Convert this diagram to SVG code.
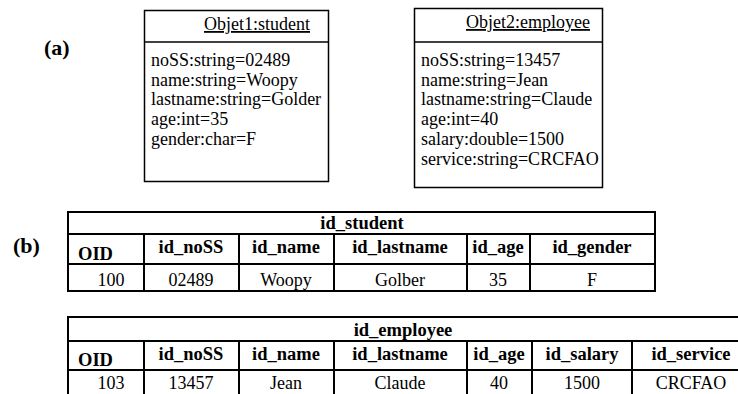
<svg xmlns="http://www.w3.org/2000/svg" width="738" height="394" viewBox="0 0 738 394">
<style>
text{font-family:"Liberation Serif","Times New Roman",serif;fill:#000}
.obj{fill:#fff;stroke:#000;stroke-width:1.5}
.sep{stroke:#000;stroke-width:1.5}
.at{font-size:18px}
.tt{font-size:18px;text-anchor:middle;text-decoration:underline}
.tb{fill:none;stroke:#000;stroke-width:2}
.tl{stroke:#000;stroke-width:2}
.h{font-size:18.5px;font-weight:bold;text-anchor:middle}
.oid{font-size:18.5px;font-weight:bold}
.v{font-size:18px;text-anchor:middle}
.lab{font-size:22px;font-weight:bold}
</style>
<rect width="738" height="394" fill="#fff"/>
<text class="lab" x="44" y="55">(a)</text>
<text class="lab" x="13" y="253">(b)</text>
<g id="objet1">
<rect class="obj" x="144.5" y="10.5" width="184" height="171"/>
<line class="sep" x1="144.5" y1="42" x2="328.5" y2="42"/>
<text class="tt" x="257" y="30">Objet1:student</text>
<text class="at" x="151" y="66">noSS:string=02489</text>
<text class="at" x="151" y="86">name:string=Woopy</text>
<text class="at" x="151" y="105">lastname:string=Golder</text>
<text class="at" x="151" y="125">age:int=35</text>
<text class="at" x="151" y="145">gender:char=F</text>
</g>
<g id="objet2">
<rect class="obj" x="414.5" y="8.5" width="188" height="179"/>
<line class="sep" x1="414.5" y1="42" x2="602.5" y2="42"/>
<text class="tt" x="528" y="28">Objet2:employee</text>
<text class="at" x="421" y="66">noSS:string=13457</text>
<text class="at" x="421" y="86">name:string=Jean</text>
<text class="at" x="421" y="105">lastname:string=Claude</text>
<text class="at" x="421" y="125">age:int=40</text>
<text class="at" x="421" y="145">salary:double=1500</text>
<text class="at" x="421" y="165">service:string=CRCFAO</text>
</g>
<g id="id_student">
<rect class="tb" x="68" y="212" width="587" height="79"/>
<line class="tl" x1="68" y1="234" x2="655" y2="234"/>
<line class="tl" x1="68" y1="264" x2="655" y2="264"/>
<line class="tl" x1="144" y1="234" x2="144" y2="291"/>
<line class="tl" x1="239" y1="234" x2="239" y2="291"/>
<line class="tl" x1="334" y1="234" x2="334" y2="291"/>
<line class="tl" x1="467" y1="234" x2="467" y2="291"/>
<line class="tl" x1="530" y1="234" x2="530" y2="291"/>
<text class="h" x="362" y="229">id_student</text>
<text class="oid" x="78" y="260">OID</text>
<text class="h" x="191" y="253">id_noSS</text>
<text class="h" x="286" y="253">id_name</text>
<text class="h" x="400" y="253">id_lastname</text>
<text class="h" x="498" y="253">id_age</text>
<text class="h" x="592" y="253">id_gender</text>
<text class="v" x="111" y="286">100</text>
<text class="v" x="191" y="286">02489</text>
<text class="v" x="286" y="286">Woopy</text>
<text class="v" x="400" y="286">Golber</text>
<text class="v" x="498" y="286">35</text>
<text class="v" x="592" y="286">F</text>
</g>
<g id="id_employee">
<rect class="tb" x="68" y="317" width="700" height="90"/>
<line class="tl" x1="68" y1="341" x2="738" y2="341"/>
<line class="tl" x1="68" y1="370" x2="738" y2="370"/>
<line class="tl" x1="144" y1="341" x2="144" y2="394"/>
<line class="tl" x1="239" y1="341" x2="239" y2="394"/>
<line class="tl" x1="334" y1="341" x2="334" y2="394"/>
<line class="tl" x1="467" y1="341" x2="467" y2="394"/>
<line class="tl" x1="532" y1="341" x2="532" y2="394"/>
<line class="tl" x1="632" y1="341" x2="632" y2="394"/>
<text class="h" x="403" y="336">id_employee</text>
<text class="oid" x="78" y="366">OID</text>
<text class="h" x="191" y="360">id_noSS</text>
<text class="h" x="286" y="360">id_name</text>
<text class="h" x="400" y="360">id_lastname</text>
<text class="h" x="499" y="360">id_age</text>
<text class="h" x="582" y="360">id_salary</text>
<text class="h" x="691" y="360">id_service</text>
<text class="v" x="111" y="389">103</text>
<text class="v" x="191" y="389">13457</text>
<text class="v" x="286" y="389">Jean</text>
<text class="v" x="400" y="389">Claude</text>
<text class="v" x="499" y="389">40</text>
<text class="v" x="582" y="389">1500</text>
<text class="v" x="691" y="389">CRCFAO</text>
</g>
</svg>
